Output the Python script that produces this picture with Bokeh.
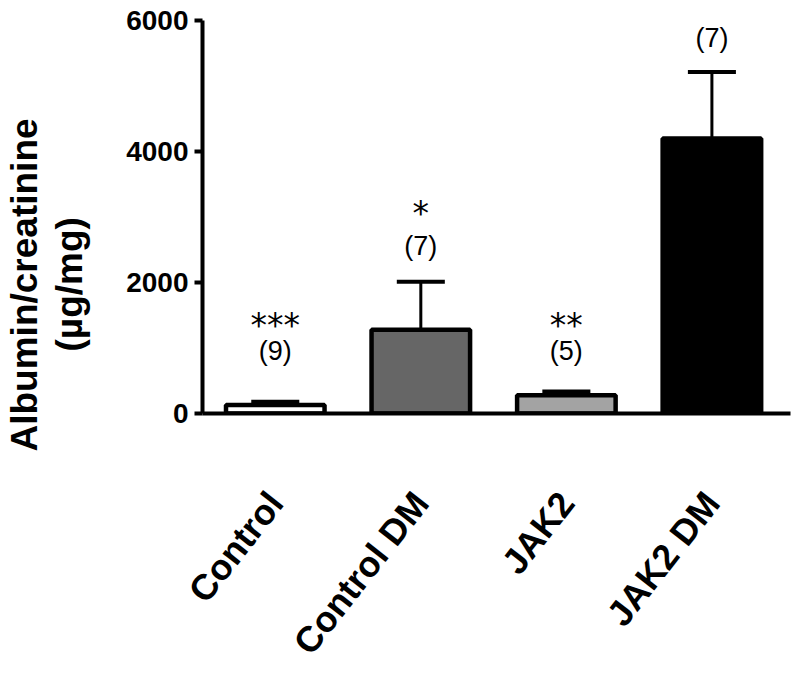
import math
from bokeh.plotting import figure
from bokeh.models import Range1d, FixedTicker, Title, ColumnDataSource, LinearAxis
from bokeh.core.properties import value
from bokeh.embed import file_html
from bokeh.resources import INLINE

# ---- data ----
groups = ["Control", "Control DM", "JAK2", "JAK2 DM"]
means = [130, 1280, 280, 4200]
sem_tops = [180, 2010, 335, 5215]
colors = ["#ffffff", "#666666", "#a3a3a3", "#000000"]
sig_labels = ["***", "*", "**", ""]
n_labels = ["(9)", "(7)", "(5)", "(7)"]
sig_y = [1340, 3060, 1340, 0]
n_y = [960, 2560, 960, 5740]
y_ticks = [0, 2000, 4000, 6000]
y_title = ["Albumin/creatinine", "(µg/mg)"]

xs = [1, 2, 3, 4]
FONT = "Liberation Sans"

p = figure(width=792, height=677, output_backend="svg", toolbar_location=None,
           x_range=Range1d(0.5, 4.54), y_range=Range1d(0, 6000),
           min_border_left=196, min_border_right=2, min_border_top=20,
           min_border_bottom=263)
p.outline_line_color = None
p.xgrid.visible = False
p.ygrid.visible = False

# error bars (upper only)
bw = 0.677
cap = 0.33
p.segment(x0=xs, y0=means, x1=xs, y1=sem_tops, line_color="black", line_width=3)
p.segment(x0=[x - cap / 2 for x in xs], y0=sem_tops, x1=[x + cap / 2 for x in xs],
          y1=sem_tops, line_color="black", line_width=4)

src = ColumnDataSource(dict(x=xs, top=means, color=colors))
p.vbar(x="x", top="top", bottom=0, width=bw, fill_color="color",
       line_color="black", line_width=4.5, source=src)

# annotations
p.text(x=xs, y=sig_y, text=sig_labels, text_font=value("DejaVu Sans"),
       text_font_size="33px", text_align="center", text_baseline="middle",
       text_color="black")
p.text(x=xs, y=n_y, text=n_labels, text_font=value(FONT),
       text_font_size="27px", text_align="center", text_baseline="middle",
       text_color="black")

# y axis
ya = p.yaxis[0]
ya.ticker = FixedTicker(ticks=y_ticks)
ya.minor_tick_line_color = None
ya.axis_line_width = 4
ya.axis_line_color = "black"
ya.major_tick_line_width = 4
ya.major_tick_line_color = "black"
ya.major_tick_out = 8
ya.major_tick_in = 0
ya.major_label_text_font = FONT
ya.major_label_text_font_style = "bold"
ya.major_label_text_font_size = "28px"
ya.major_label_text_color = "black"
ya.major_label_standoff = 6

# x axis
xa = p.xaxis[0]
xa.ticker = FixedTicker(ticks=xs)
xa.major_label_overrides = {x: g for x, g in zip(xs, groups)}
xa.minor_tick_line_color = None
xa.major_tick_line_color = None
xa.major_tick_out = 0
xa.major_tick_in = 0
xa.axis_line_width = 4
xa.axis_line_color = "black"
xa.major_label_text_font = FONT
xa.major_label_text_font_style = "bold"
xa.major_label_text_font_size = "36px"
xa.major_label_text_color = "black"
xa.major_label_orientation = math.radians(52)
xa.major_label_standoff = 83

# blank spacer between tick labels and the axis title (white tick on white)
spacer = LinearAxis(ticker=FixedTicker(ticks=[0]), axis_line_color=None,
                    major_tick_line_color="white", minor_tick_line_color=None,
                    major_tick_out=33, major_tick_in=0, minor_tick_out=0,
                    major_label_overrides={0: ""}, major_label_standoff=0,
                    major_label_text_font_size="1px")
p.add_layout(spacer, "left")

# y axis title (two lines) as left-side titles
for txt, off, stand in [(y_title[1], 62, 2), (y_title[0], -38, 2)]:
    p.add_layout(Title(text=txt, align="left", offset=off, standoff=stand,
                       text_font=FONT, text_font_style="bold",
                       text_font_size="37px", text_color="black"), "left")

open("out.html", "w").write(file_html(p, INLINE))
